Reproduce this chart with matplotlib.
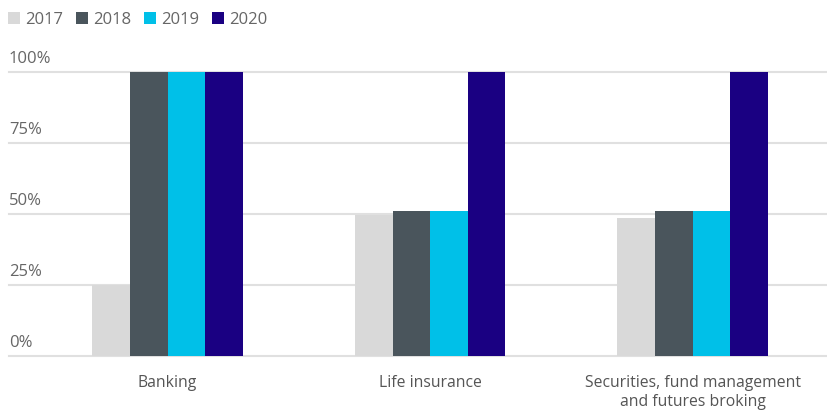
import numpy as np
import matplotlib.pyplot as plt

plt.rcParams['font.family'] = ['Open Sans', 'DejaVu Sans']

categories = ['Banking', 'Life insurance', 'Securities, fund management\nand futures broking']
years = ['2017', '2018', '2019', '2020']
v2017 = [25, 49.8, 48.7]
v2018 = [100, 51, 51]
v2019 = [100, 51, 51]
v2020 = [100, 100, 100]
colors = ['#d9d9d9', '#4a555c', '#00c0e8', '#1a0082']

series = [v2017, v2018, v2019, v2020]
x = np.arange(len(categories))
w = 0.143

fig = plt.figure(figsize=(8.28, 4.12), dpi=100)
ax = fig.add_axes([9/828, 1 - 356/412, 819/828, 284/412])

for i, vals in enumerate(series):
    ax.bar(x + (i - 1.5) * w, vals, w, color=colors[i], label=years[i], zorder=3)

ax.set_xlim(-0.604, 2.516)
ax.set_ylim(0, 100)
for yv in [0, 25, 50, 75, 100]:
    ax.axhline(yv, color='#e0e0e0', lw=1.5, zorder=1, clip_on=False)
    ax.text(0.0, yv + 1.8, f'{yv}%', transform=ax.get_yaxis_transform(),
            ha='left', va='bottom', fontsize=12, color='#666666')

ax.set_yticks([])
ax.set_xticks(x)
ax.set_xticklabels(categories, fontsize=11.3, color='#555555', linespacing=1.25)
ax.tick_params(axis='x', length=0, pad=14)
for s in ax.spines.values():
    s.set_visible(False)

fig.legend(loc='upper left', bbox_to_anchor=(-0.005, 1.0), ncol=4, frameon=False,
           handlelength=0.75, handleheight=0.75, handletextpad=0.3,
           columnspacing=0.75, fontsize=12, labelcolor='#666666', borderaxespad=0.3)

fig.savefig('out.png', dpi=100)
